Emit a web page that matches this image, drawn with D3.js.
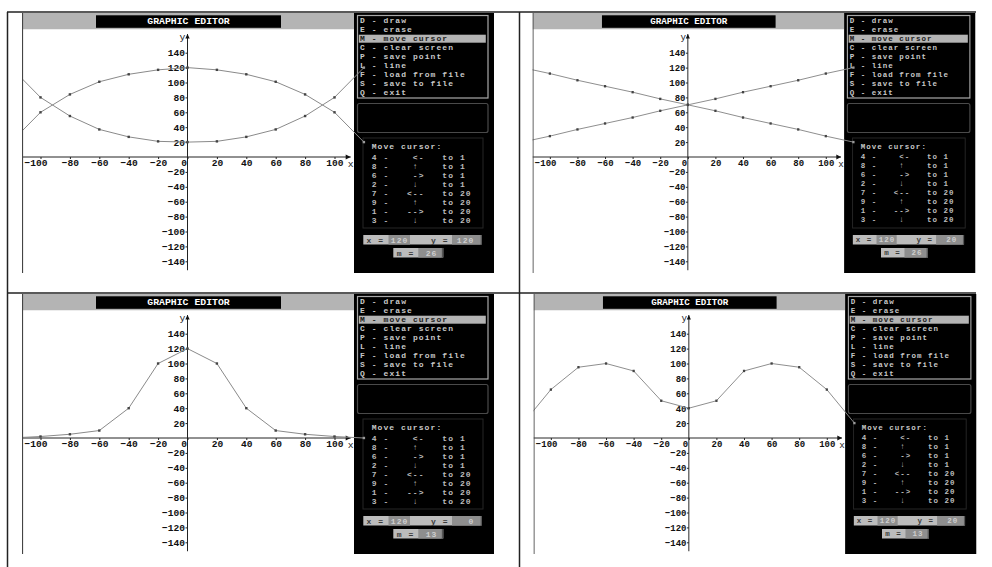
<!DOCTYPE html>
<html>
<head>
<meta charset="utf-8">
<script src="https://cdn.jsdelivr.net/npm/d3@7"></script>
<style>
  body { margin: 0; background: #fff; }
  text { font-family: "Liberation Mono", "DejaVu Sans Mono", monospace; font-size: 9.8px; white-space: pre; }
  text.ui { font-size: 8px; letter-spacing: 1.08px; font-weight: bold; }
</style>
</head>
<body>
<div id="box"></div>
<script>
// values (x from -120 to 120, step 20)
const xVals   = [-120, -100, -80, -60, -40, -20, 0, 20, 40, 60, 80, 100, 120];
const arch    = [20, 60, 84, 101, 111, 117, 120, 117, 111, 101, 84, 60, 20];
const bowl    = [120, 80, 55, 37, 27, 21, 20, 21, 27, 37, 55, 80, 120];
const falling = [120, 112, 103, 95, 87, 78, 70, 62, 53, 45, 37, 28, 20];
const rising  = [20, 28, 37, 45, 53, 62, 70, 78, 87, 95, 103, 112, 120];
const peak    = [0, 2, 5, 10, 40, 100, 120, 100, 40, 10, 5, 2, 0];
const twin    = [20, 65, 95, 100, 90, 50, 40, 50, 90, 100, 95, 65, 20];

const panelSeries = [[arch, bowl], [falling, rising], [peak], [twin]];
const cursorX = [120, 120, 120, 120];
const cursorY = [120, 20, 0, 20];
const pointCount = [26, 26, 13, 13];

const xTicks = [-100, -80, -60, -40, -20, 0, 20, 40, 60, 80, 100];
const yTicks = [140, 120, 100, 80, 60, 40, 20, -20, -40, -60, -80, -100, -120, -140];

const menuItems = ['D - draw', 'E - erase', 'M - move cursor', 'C - clear screen', 'P - save point',
  'L - line', 'F - load from file', 'S - save to file', 'Q - exit'];
const moveRows = [
  '4 -    <-   to 1',
  '8 -    \u2191    to 1',
  '6 -    ->   to 1',
  '2 -    \u2193    to 1',
  '7 -   <--   to 20',
  '9 -    \u2191    to 20',
  '1 -   -->   to 20',
  '3 -    \u2193    to 20'
];

// where each screenshot sits in the page (native width 472, height 260)
const layout = [
  { left: 22, top: 13, sx: 1 },
  { left: 532.5, top: 13, sx: 0.9386 },
  { left: 22, top: 294, sx: 1 },
  { left: 533.5, top: 294, sx: 0.9386 }
];

const W = 472, H = 260, chartW = 332;

const x_scale = d3.scaleLinear().domain([-100, 100]).range([18.5, 312.5]);
const y_scale = d3.scaleLinear().domain([-140, 140]).range([248.3, 39.7]);

const svg = d3.select('#box').append('svg')
  .attr('width', 992)
  .attr('height', 567);

svg.append('defs').append('clipPath').attr('id', 'shot')
  .append('rect').attr('width', W).attr('height', H);

const line = d3.line()
  .x((d) => x_scale(d.x))
  .y((d) => y_scale(d.y));

layout.forEach((pos, p) => {
  const g = svg.append('g')
    .attr('transform', 'translate(' + pos.left + ',' + pos.top + ') scale(' + pos.sx + ',1)')
    .append('g')
    .attr('clip-path', 'url(#shot)');

  const label = (x, y, txt, fill, anchor) => g.append('text')
    .attr('class', 'ui')
    .attr('x', x).attr('y', y)
    .attr('text-anchor', anchor || 'start')
    .attr('dominant-baseline', 'central')
    .attr('fill', fill)
    .text(txt);

  // header + title
  g.append('rect').attr('x', 0).attr('y', 0).attr('width', chartW).attr('height', 16.5).attr('fill', '#b4b4b4');
  g.append('rect').attr('x', 74).attr('y', 2.3).attr('width', 185).attr('height', 12.5).attr('fill', '#000');
  g.append('text').attr('x', 166.5).attr('y', 8.6)
    .attr('text-anchor', 'middle').attr('dominant-baseline', 'central')
    .attr('font-weight', 'bold').attr('fill', '#fff')
    .text('GRAPHIC EDITOR');

  // white drawing area and black side panel
  g.append('rect').attr('x', 0).attr('y', 16.5).attr('width', chartW).attr('height', H - 16.5).attr('fill', '#fff');
  g.append('rect').attr('x', chartW).attr('y', 0).attr('width', W - chartW).attr('height', H).attr('fill', '#000');

  // menu
  g.append('rect').attr('x', 335.5).attr('y', 2.5).attr('width', 130.5).attr('height', 82.5)
    .attr('fill', 'none').attr('stroke', '#a8a8a8').attr('stroke-width', 1.2);
  g.append('rect').attr('x', 336.8).attr('y', 21.7).attr('width', 127).attr('height', 8).attr('fill', '#b4b4b4');
  menuItems.forEach((d, i) => label(338, 7.7 + i * 9, d, i === 2 ? '#1a1a1a' : '#c8c8c8'));

  g.append('rect').attr('x', 335.5).attr('y', 90.5).attr('width', 130.5).attr('height', 29).attr('rx', 2)
    .attr('fill', 'none').attr('stroke', '#4a4a4a').attr('stroke-width', 1.2);

  // move cursor help
  g.append('rect').attr('x', 341).attr('y', 125).attr('width', 120).attr('height', 90)
    .attr('fill', 'none').attr('stroke', '#262626');
  label(349.7, 133.6, 'Move cursor:', '#c8c8c8');
  moveRows.forEach((d, i) => label(349.7, 144 + i * 9, d, '#bcbcbc'));

  // coordinates read-out
  g.append('rect').attr('x', 341.3).attr('y', 222).attr('width', 118.4).attr('height', 9.5).attr('fill', '#bcbcbc');
  g.append('rect').attr('x', 366.5).attr('y', 222).attr('width', 21.5).attr('height', 9.5).attr('fill', '#8e8e8e');
  g.append('rect').attr('x', 430).attr('y', 222).attr('width', 28.5).attr('height', 9.5).attr('fill', '#8e8e8e');
  g.append('rect').attr('x', 458.5).attr('y', 222).attr('width', 1.4).attr('height', 9.5).attr('fill', '#555');
  label(344.5, 227, 'x =', '#3a3a3a');
  label(386.5, 227, String(cursorX[p]), '#cfcfcf', 'end');
  label(409, 227, 'y =', '#3a3a3a');
  label(452.5, 227, String(cursorY[p]), '#cfcfcf', 'end');

  g.append('rect').attr('x', 371.3).attr('y', 235).attr('width', 50).attr('height', 9.5).attr('fill', '#bcbcbc');
  g.append('rect').attr('x', 396.3).attr('y', 235).attr('width', 23.4).attr('height', 9.5).attr('fill', '#8e8e8e');
  g.append('rect').attr('x', 419.7).attr('y', 235).attr('width', 1.6).attr('height', 9.5).attr('fill', '#555');
  label(374.7, 240, 'm =', '#3a3a3a');
  label(415.5, 240, String(pointCount[p]), '#cfcfcf', 'end');

  // axes
  const xAxis = g.append('g')
    .attr('transform', 'translate(0,' + y_scale(0) + ')')
    .call(d3.axisBottom(x_scale).tickValues(xTicks).tickSize(2).tickPadding(0).tickFormat(d3.format('d')));
  const yAxis = g.append('g')
    .attr('transform', 'translate(' + x_scale(0) + ',0)')
    .call(d3.axisLeft(y_scale).tickValues(yTicks).tickSize(2).tickPadding(0.5).tickFormat(d3.format('d')));
  [xAxis, yAxis].forEach((a) => {
    a.select('.domain').remove();
    a.selectAll('text')
      .attr('fill', '#111').attr('font-weight', 'bold')
      .style('font-size', '9.6px').style('font-family', '"Liberation Mono", "DejaVu Sans Mono", monospace');
    a.selectAll('line').attr('stroke', '#222');
  });
  xAxis.selectAll('.tick text').attr('dx', (d) => (d === 0 ? -4 : d === -100 ? -5 : 0));

  g.append('line')
    .attr('x1', 0).attr('x2', x_scale(111))
    .attr('y1', y_scale(0)).attr('y2', y_scale(0))
    .attr('stroke', '#222').attr('stroke-width', 1);
  g.append('path')
    .attr('transform', 'translate(' + x_scale(111) + ',' + y_scale(0) + ')')
    .attr('d', 'M0,0 L-5,-2.5 L-5,2.5 Z').attr('fill', '#111');
  g.append('line')
    .attr('x1', x_scale(0)).attr('x2', x_scale(0))
    .attr('y1', y_scale(165)).attr('y2', y_scale(-152))
    .attr('stroke', '#222').attr('stroke-width', 1);
  g.append('path')
    .attr('transform', 'translate(' + x_scale(0) + ',' + y_scale(165) + ')')
    .attr('d', 'M0,0 L-2.2,4.5 L2.2,4.5 Z').attr('fill', '#111');
  g.append('text').attr('x', x_scale(111)).attr('y', y_scale(0) + 7)
    .attr('dominant-baseline', 'central').attr('text-anchor', 'middle').attr('fill', '#222').text('x');
  g.append('text').attr('x', x_scale(0) - 5).attr('y', y_scale(161))
    .attr('dominant-baseline', 'central').attr('text-anchor', 'middle').attr('fill', '#222').text('y');

  // curves with their points
  panelSeries[p].forEach((vals) => {
    const pts = vals.map((v, i) => ({ x: xVals[i], y: v }));
    g.append('path').datum(pts)
      .attr('d', line)
      .attr('fill', 'none').attr('stroke', '#8a8a8a').attr('stroke-width', 1);
    g.selectAll('.pt').data(pts).enter().append('rect')
      .attr('x', (d) => x_scale(d.x) - 1.2)
      .attr('y', (d) => y_scale(d.y) - 1.2)
      .attr('width', 2.4).attr('height', 2.4)
      .attr('fill', (d) => (d.x > 110 ? '#9a9a9a' : '#444'));
  });

  // screenshot left edge
  g.append('line').attr('x1', 0.5).attr('x2', 0.5).attr('y1', 0).attr('y2', H)
    .attr('stroke', '#444').attr('stroke-width', 1.2);
});

// table rules
const rules = [
  [7, 12, 976, 12],
  [7, 293, 976, 293],
  [7.5, 12, 7.5, 567],
  [519.5, 12, 519.5, 567]
];
svg.selectAll('.rule').data(rules).enter().append('line')
  .attr('x1', (d) => d[0]).attr('y1', (d) => d[1])
  .attr('x2', (d) => d[2]).attr('y2', (d) => d[3])
  .attr('stroke', '#222').attr('stroke-width', 1.5);
</script>
</body>
</html>
